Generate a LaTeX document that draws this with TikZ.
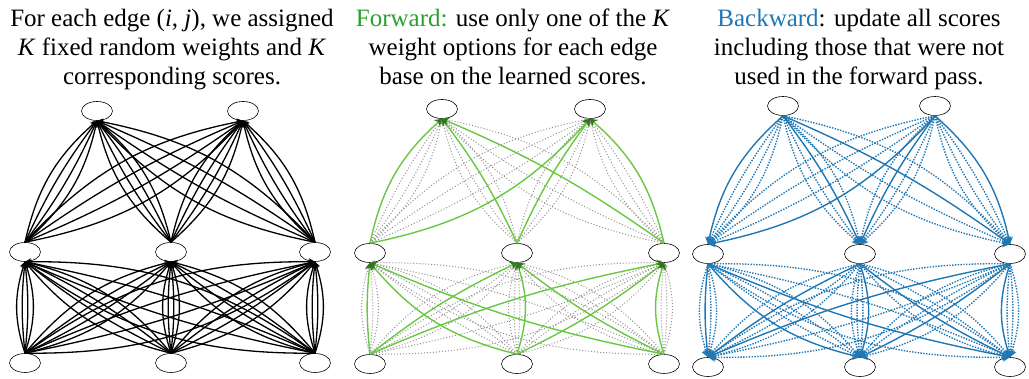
\documentclass[tikz,border=0pt]{standalone}
\usepackage{fontspec}
\setmainfont{Liberation Serif}
\usetikzlibrary{shapes.geometric,arrows.meta}
\definecolor{fgreen}{RGB}{44,160,44}
\definecolor{lgreen}{RGB}{105,200,65}
\definecolor{dgreen}{RGB}{45,120,25}
\definecolor{bblue}{RGB}{31,119,180}
\definecolor{dotgray}{RGB}{145,145,145}
\begin{document}
\begin{tikzpicture}[x=1pt,y=1pt,
 nd/.style={ellipse,draw,line width=0.6pt,minimum width=31pt,minimum height=19pt,inner sep=0pt},
 txt/.style={anchor=base,font=\fontsize{25}{29}\selectfont,inner sep=0pt},
 blk/.style={line width=1.3pt,-{Stealth[length=6pt,width=7pt]}},
 gsol/.style={lgreen,line width=1.4pt,-{Stealth[length=7pt,width=9pt,color=dgreen,fill=dgreen]}},
 gdot/.style={dotgray,line width=1pt,dash pattern=on 1pt off 2pt,-{Stealth[length=5pt,width=5pt]}},
 bsol/.style={bblue,line width=1.4pt,{Stealth[length=7pt,width=9pt]}-},
 bdot/.style={bblue,line width=1.4pt,dash pattern=on 1.4pt off 1.4pt,{Stealth[length=7pt,width=9pt]}-},
]
\useasboundingbox (0,0) rectangle (1029,379);

% ---------- texts ----------
\node[txt] (a1) at (172,352) {For each edge (\textit{i}, \textit{j}), we assigned};
\node[txt] (a2) at (172,323) {\textit{K} fixed random weights and \textit{K}};
\node[txt] (a3) at (172,294) {corresponding scores.};
\node[txt] (b1) at (513,352) {\textcolor{fgreen}{Forward:} use only one of the \textit{K}};
\node[txt] (b2) at (513,323) {weight options for each edge};
\node[txt] (b3) at (513,294) {base on the learned scores.};
\node[txt] (c1) at (859,352) {\textcolor{bblue}{Backward}: update all scores};
\node[txt] (c2) at (859,323) {including those that were not};
\node[txt] (c3) at (859,294) {used in the forward pass.};

% ---------- nodes ----------
\node[nd] (aT1) at (97,268) {};  \node[nd] (aT2) at (243,268) {};
\node[nd] (aM1) at (25,127) {};  \node[nd] (aM2) at (171,127) {}; \node[nd] (aM3) at (315,127) {};
\node[nd] (aB1) at (25,16) {};   \node[nd] (aB2) at (171,16) {};  \node[nd] (aB3) at (315,16) {};

\node[nd] (bT1) at (442,270) {}; \node[nd] (bT2) at (590,270) {};
\node[nd] (bM1) at (370,126) {}; \node[nd] (bM2) at (517,126) {}; \node[nd] (bM3) at (664,126) {};
\node[nd] (bB1) at (370,15) {};  \node[nd] (bB2) at (517,15) {};  \node[nd] (bB3) at (664,15) {};

\node[nd] (cT1) at (783,273) {}; \node[nd] (cT2) at (935,273) {};
\node[nd] (cM1) at (708,125) {}; \node[nd] (cM2) at (860,125) {}; \node[nd] (cM3) at (1010,125) {};
\node[nd] (cB1) at (708,12) {};  \node[nd] (cB2) at (860,12) {};  \node[nd] (cB3) at (1010,12) {};

% ---------- panel 1 ----------
\foreach \l/\u in {M1/T1,M2/T1,M3/T1,M1/T2,M2/T2,M3/T2,B1/M1,B2/M1,B3/M1,B1/M2,B2/M2,B3/M2,B1/M3,B2/M3,B3/M3}{
  \foreach \a in {-18,-6,6,18}{
    \draw[blk] (a\l.north) to[bend left=\a] (a\u.south);
  }
}

% ---------- panel 2 ----------
\foreach \l/\u/\c in {M1/T1/18,M2/T1/-6,M3/T1/-6,M1/T2/-18,M2/T2/6,M3/T2/-18,B1/M1/6,B2/M1/18,B3/M1/6,B1/M2/6,B2/M2/-18,B3/M2/6,B1/M3/6,B2/M3/-6,B3/M3/18}{
  \foreach \a in {-18,-6,6,18}{
    \ifdim\a pt=\c pt\relax\else
      \draw[gdot] (b\l.north) to[bend left=\a] (b\u.south);
    \fi
  }
}
\foreach \l/\u/\c in {M1/T1/18,M2/T1/-6,M3/T1/-6,M1/T2/-18,M2/T2/6,M3/T2/-18,B1/M1/6,B2/M1/18,B3/M1/6,B1/M2/6,B2/M2/-18,B3/M2/6,B1/M3/6,B2/M3/-6,B3/M3/18}{
  \draw[gsol] (b\l.north) to[bend left=\c] (b\u.south);
}

% ---------- panel 3 ----------
\foreach \l/\u/\c in {M1/T1/18,M2/T1/-6,M3/T1/-6,M1/T2/-18,M2/T2/6,M3/T2/-18,B1/M1/6,B2/M1/18,B3/M1/6,B1/M2/6,B2/M2/-18,B3/M2/6,B1/M3/6,B2/M3/-6,B3/M3/18}{
  \foreach \a in {-18,-6,6,18}{
    \ifdim\a pt=\c pt\relax
      \draw[bsol] (c\l.north) to[bend left=\a] (c\u.south);
    \else
      \draw[bdot] (c\l.north) to[bend left=\a] (c\u.south);
    \fi
  }
}
\end{tikzpicture}
\end{document}
